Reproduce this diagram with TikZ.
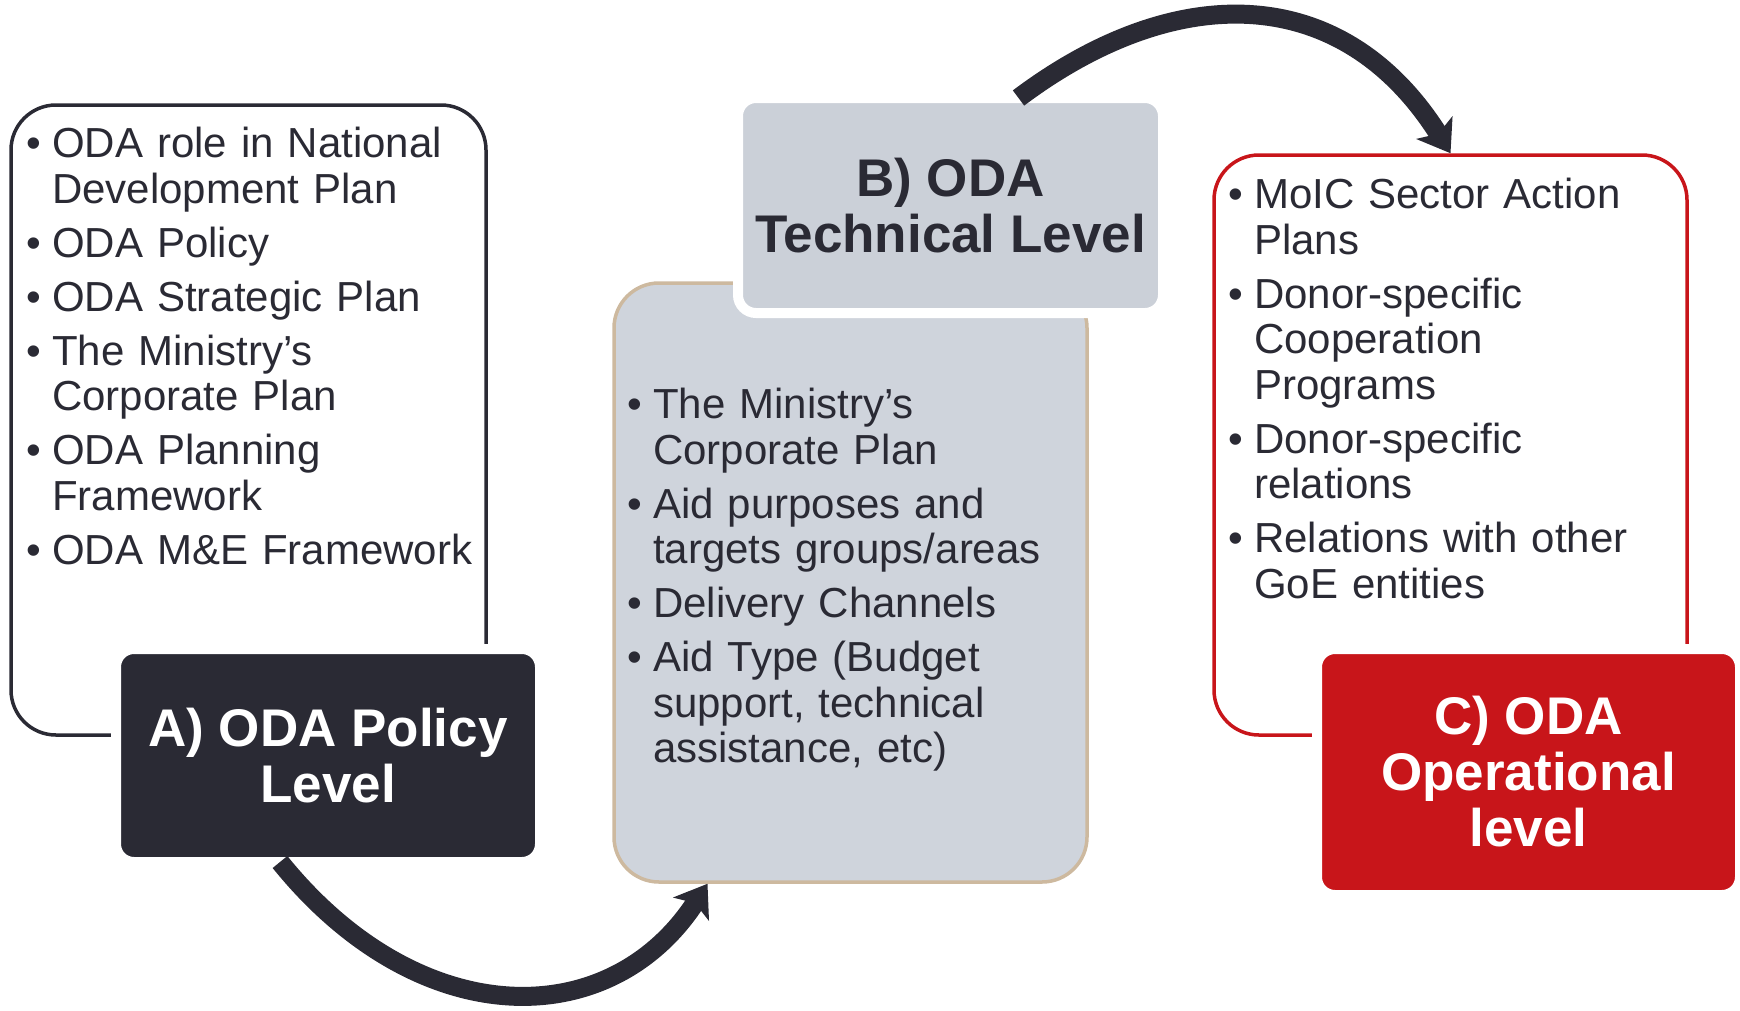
\documentclass[tikz,border=0pt]{standalone}
\usepackage{fontspec}
\setmainfont{Liberation Sans}
\usetikzlibrary{arrows.meta}
\definecolor{odadark}{HTML}{2A2A34}
\definecolor{odagrey}{HTML}{CFD4DC}
\definecolor{odahead}{HTML}{CBD0D8}
\definecolor{odatan}{HTML}{CDB99F}
\definecolor{odared}{HTML}{C8151A}
\newcommand{\odaitem}[1]{\par\hangindent=26pt\hangafter=1\noindent\hbox to 26pt{\textbullet\hfil}{\let\\\newline #1}\par\vspace{8.5pt}}
\begin{document}
\begin{tikzpicture}[x=1pt, y=1pt,
  outline/.style={rounded corners=45pt, line width=3.5pt, inner sep=0pt},
  head/.style={rounded corners=18pt, draw=white, line width=10pt, outer sep=0pt, inner sep=0pt, align=center, font=\bfseries\fontsize{53}{56}\selectfont},
  list/.style={anchor=north west, inner sep=0pt, text width=#1, text=odadark, font=\fontsize{42}{45.5}\selectfont},
  bigarrow/.style={draw=odadark, line width=19pt, -{Stealth[length=30pt, width=42pt, inset=7pt]}}]
\path[use as bounding box] (0,0) rectangle (1740,-1010);

\node [outline, draw=odadark, minimum width=475pt, minimum height=630pt] (boxA) at (248.5,-420) {};
\node [head, fill=odadark, text=white, minimum width=424pt, minimum height=213pt] (headA) at (328,-755.5) {A) ODA Policy\\Level};
\node [list=460pt] (listA) at (26,-112) {\raggedright
  \odaitem{ODA role in National\\Development Plan}
  \odaitem{ODA Policy}
  \odaitem{ODA Strategic Plan}
  \odaitem{The Ministry’s\\Corporate Plan}
  \odaitem{ODA Planning\\Framework}
  \odaitem{ODA M\&E Framework}};

\node [outline, draw=odatan, fill=odagrey, minimum width=473pt, minimum height=599pt] (boxB) at (850.5,-582.5) {};
\node [head, fill=odahead, text=odadark, minimum width=425pt, minimum height=215pt] (headB) at (950.5,-205.5) {B) ODA\\Technical Level};
\node [list=455pt] (listB) at (627,-373) {\raggedright
  \odaitem{The Ministry’s\\Corporate Plan}
  \odaitem{Aid purposes and\\targets groups/areas}
  \odaitem{Delivery Channels}
  \odaitem{Aid Type (Budget\\support, technical\\assistance, etc)}};

\node [outline, draw=odared, minimum width=473pt, minimum height=580pt] (boxC) at (1450.5,-445) {};
\node [head, fill=odared, text=white, minimum width=423pt, minimum height=246pt] (headC) at (1528.5,-772) {C) ODA\\Operational\\level};
\node [list=450pt] (listC) at (1228,-163) {\raggedright
  \odaitem{MoIC Sector Action\\Plans}
  \odaitem{Donor-specific\\Cooperation\\Programs}
  \odaitem{Donor-specific\\relations}
  \odaitem{Relations with other\\GoE entities}};

\draw [bigarrow] ([xshift=-48pt]headA.south) .. controls +(138,-171) and +(-98,-151) .. ([xshift=-143pt]boxB.south);
\draw [bigarrow] ([xshift=68pt]headB.north) .. controls +(157,118) and +(-108,172) .. (boxC.north);
\end{tikzpicture}
\end{document}
